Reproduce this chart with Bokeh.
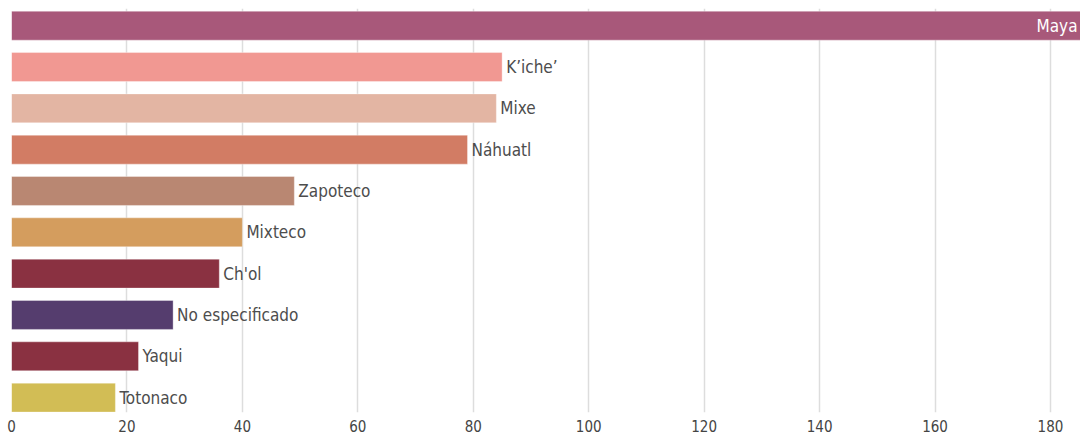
from bokeh.plotting import figure
from bokeh.models import ColumnDataSource, Range1d, FixedTicker
from bokeh.core.properties import value
from bokeh.embed import file_html
from bokeh.resources import INLINE

categories = ["Maya", "K\u2019iche\u2019", "Mixe", "N\u00e1huatl", "Zapoteco", "Mixteco",
              "Ch'ol", "No especificado", "Yaqui", "Totonaco"]
values = [187, 85, 84, 79, 49, 40, 36, 28, 22, 18]
colors = ["#A8587A", "#F19892", "#E3B5A3", "#D27C64", "#B98772", "#D49D5E",
          "#8A3141", "#553D6E", "#8A3141", "#D2BD55"]
x_ticks = [0, 20, 40, 60, 80, 100, 120, 140, 160, 180]

FONT = "'Liberation Sans Narrow', 'DejaVu Sans Condensed', 'Roboto', sans-serif"

pos = list(range(len(categories)))
inside = [i == 0 for i in pos]
src = ColumnDataSource(dict(
    cat=categories, val=values, color=colors, pos=pos,
))
out_src = ColumnDataSource(dict(
    cat=[c for c, f in zip(categories, inside) if not f],
    val=[v for v, f in zip(values, inside) if not f],
    pos=[p for p, f in zip(pos, inside) if not f],
))
X_END = 185.2
in_src = ColumnDataSource(dict(
    cat=[c for c, f in zip(categories, inside) if f],
    val=[min(v, X_END) for v, f in zip(values, inside) if f],
    pos=[p for p, f in zip(pos, inside) if f],
))

p = figure(width=1080, height=436, output_backend="svg", toolbar_location=None,
           x_range=Range1d(0, X_END), y_range=Range1d(9.36, -0.416),
           min_border_left=11, min_border_right=0, min_border_top=8, min_border_bottom=24)
p.outline_line_color = None
p.background_fill_color = "white"

p.hbar(y="pos", right="val", left=0, height=0.7, fill_color="color",
       line_color="white", line_alpha=0.35, line_width=1, source=src)

p.text(x="val", y="pos", text="cat", source=out_src, x_offset=4,
       text_align="left", text_baseline="middle", text_color="#4d4d4d",
       text_font=value(FONT), text_font_size="17px")
p.text(x="val", y="pos", text="cat", source=in_src, x_offset=-3,
       text_align="right", text_baseline="middle", text_color="white",
       text_font=value(FONT), text_font_size="17px")

p.yaxis.visible = False
p.ygrid.grid_line_color = None
p.xgrid.grid_line_color = "#dddddd"
p.xgrid.grid_line_width = 1.5
p.xaxis.ticker = FixedTicker(ticks=x_ticks)
p.xaxis.axis_line_color = None
p.xaxis.major_tick_line_color = None
p.xaxis.minor_tick_line_color = None
p.xaxis.major_tick_out = 0
p.xaxis.major_tick_in = 0
p.xaxis.major_label_standoff = 7
p.xaxis.major_label_text_font = FONT
p.xaxis.major_label_text_font_size = "15px"
p.xaxis.major_label_text_color = "#444444"

open("out.html", "w").write(file_html(p, INLINE))
